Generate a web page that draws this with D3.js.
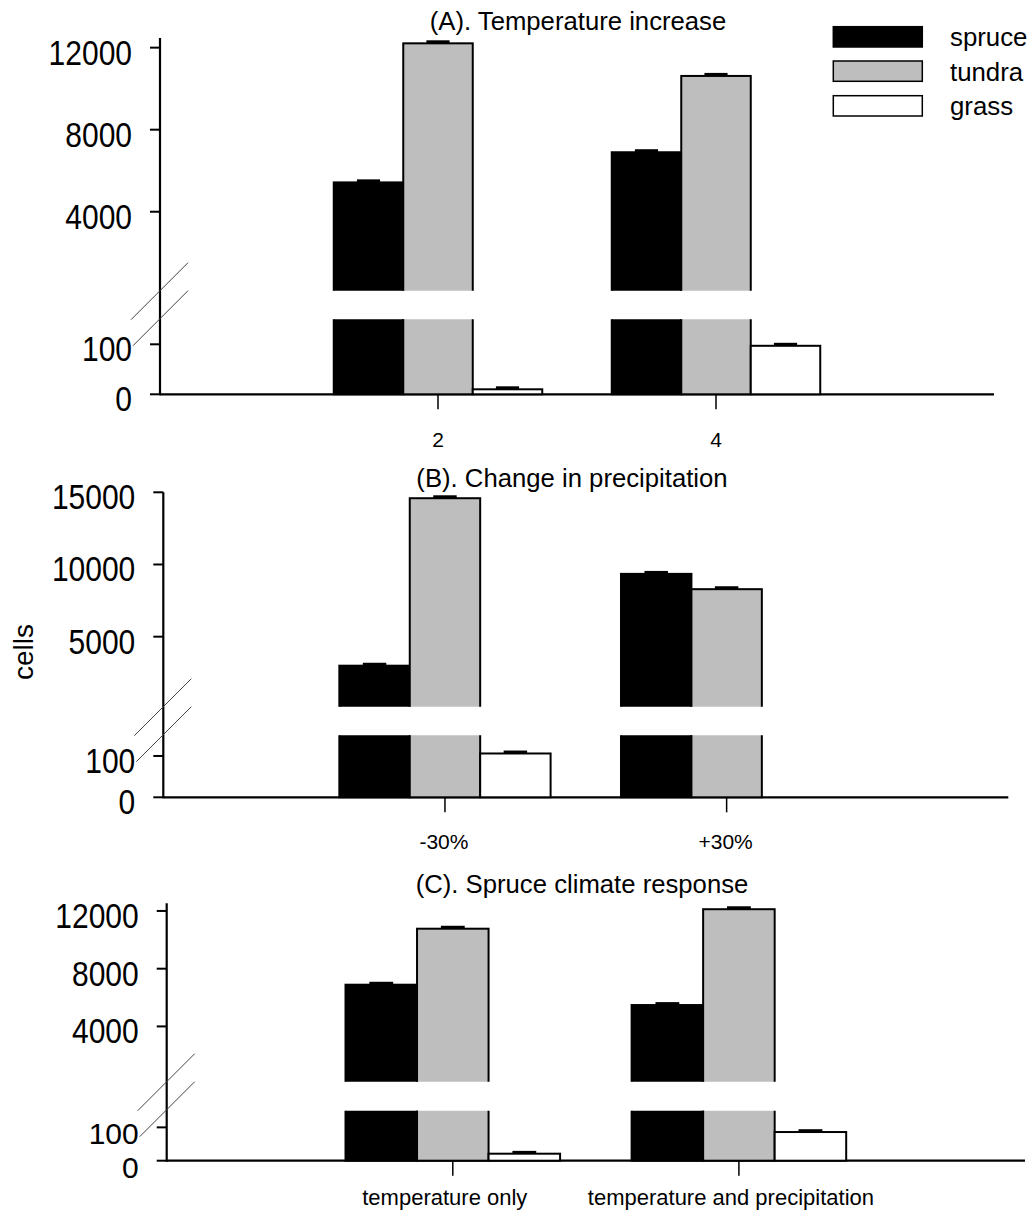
<!DOCTYPE html>
<html>
<head>
<meta charset="utf-8">
<script src="https://cdn.jsdelivr.net/npm/d3@7"></script>
<style>
  html, body { margin: 0; padding: 0; background: #fff; }
  svg { display: block; font-family: "Liberation Sans", Arial, Helvetica, sans-serif; }
</style>
</head>
<body>
<svg id="chart" width="1033" height="1221"></svg>
<script>
// ---------- data ----------
const species = ["spruce", "tundra", "grass"];
const speciesFill = ["#000000", "#bebebe", "#ffffff"];

const titles = ["(A). Temperature increase", "(B). Change in precipitation", "(C). Spruce climate response"];

const catsA = ["2", "4"];
const spruceA = [5430, 6900];
const tundraA = [12210, 10620];
const grassA = [10, 97];
const spruceErrA = [75, 75];
const tundraErrA = [75, 75];
const grassErrA = [3, 3];

const catsB = ["-30%", "+30%"];
const spruceB = [2990, 9350];
const tundraB = [14590, 8290];
const grassB = [106, 0];
const spruceErrB = [100, 100];
const tundraErrB = [100, 100];
const grassErrB = [3.5, 0];

const catsC = ["temperature only", "temperature and precipitation"];
const spruceC = [6890, 5480];
const tundraC = [10770, 12120];
const grassC = [21, 86];
const spruceErrC = [100, 100];
const tundraErrC = [100, 100];
const grassErrC = [4, 4];

const upperTicksA = [4000, 8000, 12000];
const upperTicksB = [5000, 10000, 15000];
const upperTicksC = [4000, 8000, 12000];
const lowerTicks = [0, 100];
const breakValue = 150;

// ---------- layout ----------
const panels = [
  { title: titles[0], cats: catsA, values: [spruceA, tundraA, grassA], errs: [spruceErrA, tundraErrA, grassErrA],
    upperTicks: upperTicksA, upperDomain: [breakValue, 12470],
    axisX: 160, axisRight: 994, top: 38, upperBottom: 290.7, lowerTop: 319.3, base: 394.3,
    titleX: 578, titleY: 30, labelDy: 53, labelDx: 0, labelSize: 21, lowerStretch: 1.16 },
  { title: titles[1], cats: catsB, values: [spruceB, tundraB, grassB], errs: [spruceErrB, tundraErrB, grassErrB],
    upperTicks: upperTicksB, upperDomain: [breakValue, 15000],
    axisX: 163.3, axisRight: 1008.3, top: 492.3, upperBottom: 706.7, lowerTop: 735.3, base: 797.3,
    titleX: 572, titleY: 487, labelDy: 52, labelDx: -1, labelSize: 21, lowerStretch: 1.16 },
  { title: titles[2], cats: catsC, values: [spruceC, tundraC, grassC], errs: [spruceErrC, tundraErrC, grassErrC],
    upperTicks: upperTicksC, upperDomain: [170, 12530],
    axisX: 166.7, axisRight: 1025, top: 903.3, upperBottom: 1081.7, lowerTop: 1110.7, base: 1160.7,
    titleX: 582, titleY: 893, labelDy: 44, labelDx: -8, labelSize: 22, lowerStretch: 1.0 }
];

const svg = d3.select("#chart");
const defs = svg.append("defs");

panels.forEach((p, pi) => {
  const g = svg.append("g");
  const yU = d3.scaleLinear().domain(p.upperDomain).range([p.upperBottom, p.top]);
  const yL = d3.scaleLinear().domain([0, breakValue]).range([p.base, p.lowerTop]);
  const x = d3.scalePoint().domain(["_l", ...p.cats, "_r"]).range([p.axisX, p.axisRight]);
  const bw = x.step() * 0.25;
  const xs = d3.scaleBand().domain(species).range([-1.5 * bw, 1.5 * bw]).paddingInner(0).paddingOuter(0);

  // clip paths
  const cu = "clipU" + pi, cl = "clipL" + pi;
  defs.append("clipPath").attr("id", cu).append("rect")
    .attr("x", p.axisX).attr("y", p.top - 20).attr("width", p.axisRight - p.axisX + 10)
    .attr("height", p.upperBottom - (p.top - 20));
  defs.append("clipPath").attr("id", cl).append("rect")
    .attr("x", p.axisX).attr("y", p.lowerTop).attr("width", p.axisRight - p.axisX + 10)
    .attr("height", p.base - p.lowerTop + 1.5);

  // baseline
  g.append("line").attr("x1", p.axisX).attr("x2", p.axisRight)
    .attr("y1", p.base).attr("y2", p.base).attr("stroke", "#000").attr("stroke-width", 2.2);

  // bars
  const gU = g.append("g").attr("clip-path", `url(#${cu})`);
  const gL = g.append("g").attr("clip-path", `url(#${cl})`);
  species.forEach((sp, si) => {
    p.cats.forEach((c, ci) => {
      const v = p.values[si][ci];
      const e = p.errs[si][ci];
      const x0 = x(c) + xs(sp);
      const lt = v > breakValue ? p.lowerTop - 5 : yL(v);
      gL.append("rect").attr("x", x0).attr("width", xs.bandwidth())
        .attr("y", lt).attr("height", Math.max(0, p.base - lt))
        .attr("fill", speciesFill[si]).attr("stroke", "#000").attr("stroke-width", 2);
      let topY, capY;
      if (v > breakValue) {
        topY = yU(v);
        capY = yU(v + e);
        gU.append("rect").attr("x", x0).attr("width", xs.bandwidth())
          .attr("y", topY).attr("height", p.upperBottom + 5 - topY)
          .attr("fill", speciesFill[si]).attr("stroke", "#000").attr("stroke-width", 2);
      } else {
        topY = yL(v);
        capY = yL(v + e);
      }
      if (e > 0) {
        const cx = x0 + xs.bandwidth() / 2;
        g.append("line").attr("x1", cx).attr("x2", cx).attr("y1", topY).attr("y2", capY)
          .attr("stroke", "#000").attr("stroke-width", 1.5);
        g.append("line").attr("x1", cx - bw / 6).attr("x2", cx + bw / 6)
          .attr("y1", capY).attr("y2", capY).attr("stroke", "#000").attr("stroke-width", 3);
      }
    });
  });

  // y axis line
  g.append("line").attr("x1", p.axisX).attr("x2", p.axisX)
    .attr("y1", p.top).attr("y2", p.base + 1).attr("stroke", "#000").attr("stroke-width", 2.2);

  // y ticks
  const yTicks = [
    ...p.upperTicks.map(t => ({ v: t, y: yU(t), s: 1.16 })),
    ...lowerTicks.map(t => ({ v: t, y: yL(t), s: p.lowerStretch }))
  ];
  yTicks.forEach(t => {
    g.append("line").attr("x1", p.axisX - 10).attr("x2", p.axisX)
      .attr("y1", t.y).attr("y2", t.y).attr("stroke", "#000").attr("stroke-width", 2);
    g.append("text").attr("transform", `translate(${p.axisX - 28},${t.y}) scale(1,${t.s})`)
      .attr("y", 17 / t.s)
      .attr("text-anchor", "end").attr("font-size", 30).attr("fill", "#000").text(t.v);
  });

  // break marks
  const ax = p.axisX, uB = p.upperBottom;
  g.append("line").attr("x1", ax + 28).attr("y1", uB - 28).attr("x2", ax - 29).attr("y2", uB + 29)
    .attr("stroke", "#444").attr("stroke-width", 1);
  g.append("line").attr("x1", ax + 28).attr("y1", uB).attr("x2", ax - 27).attr("y2", uB + 55)
    .attr("stroke", "#444").attr("stroke-width", 1);

  // x ticks and labels
  p.cats.forEach(c => {
    g.append("line").attr("x1", x(c)).attr("x2", x(c)).attr("y1", p.base).attr("y2", p.base + 15)
      .attr("stroke", "#000").attr("stroke-width", 1.5);
    g.append("text").attr("x", x(c) + p.labelDx).attr("y", p.base + p.labelDy)
      .attr("text-anchor", "middle").attr("font-size", p.labelSize).attr("fill", "#000").text(c);
  });

  // title
  g.append("text").attr("x", p.titleX).attr("y", p.titleY).attr("text-anchor", "middle")
    .attr("font-size", 25.7).attr("fill", "#000").text(p.title);
});

// y axis title
svg.append("text").attr("transform", "translate(33,652) rotate(-90)")
  .attr("text-anchor", "middle").attr("font-size", 28).attr("fill", "#000").text("cells");

// legend
const legY = [26.7, 61, 95.7];
const leg = svg.append("g");
species.forEach((sp, i) => {
  leg.append("rect").attr("x", 833.3).attr("y", legY[i]).attr("width", 89).attr("height", 20.3)
    .attr("fill", speciesFill[i]).attr("stroke", "#000").attr("stroke-width", 1.5);
  leg.append("text").attr("x", 950).attr("y", legY[i] + 19.5).attr("font-size", 25.8)
    .attr("fill", "#000").text(sp);
});
</script>
</body>
</html>
